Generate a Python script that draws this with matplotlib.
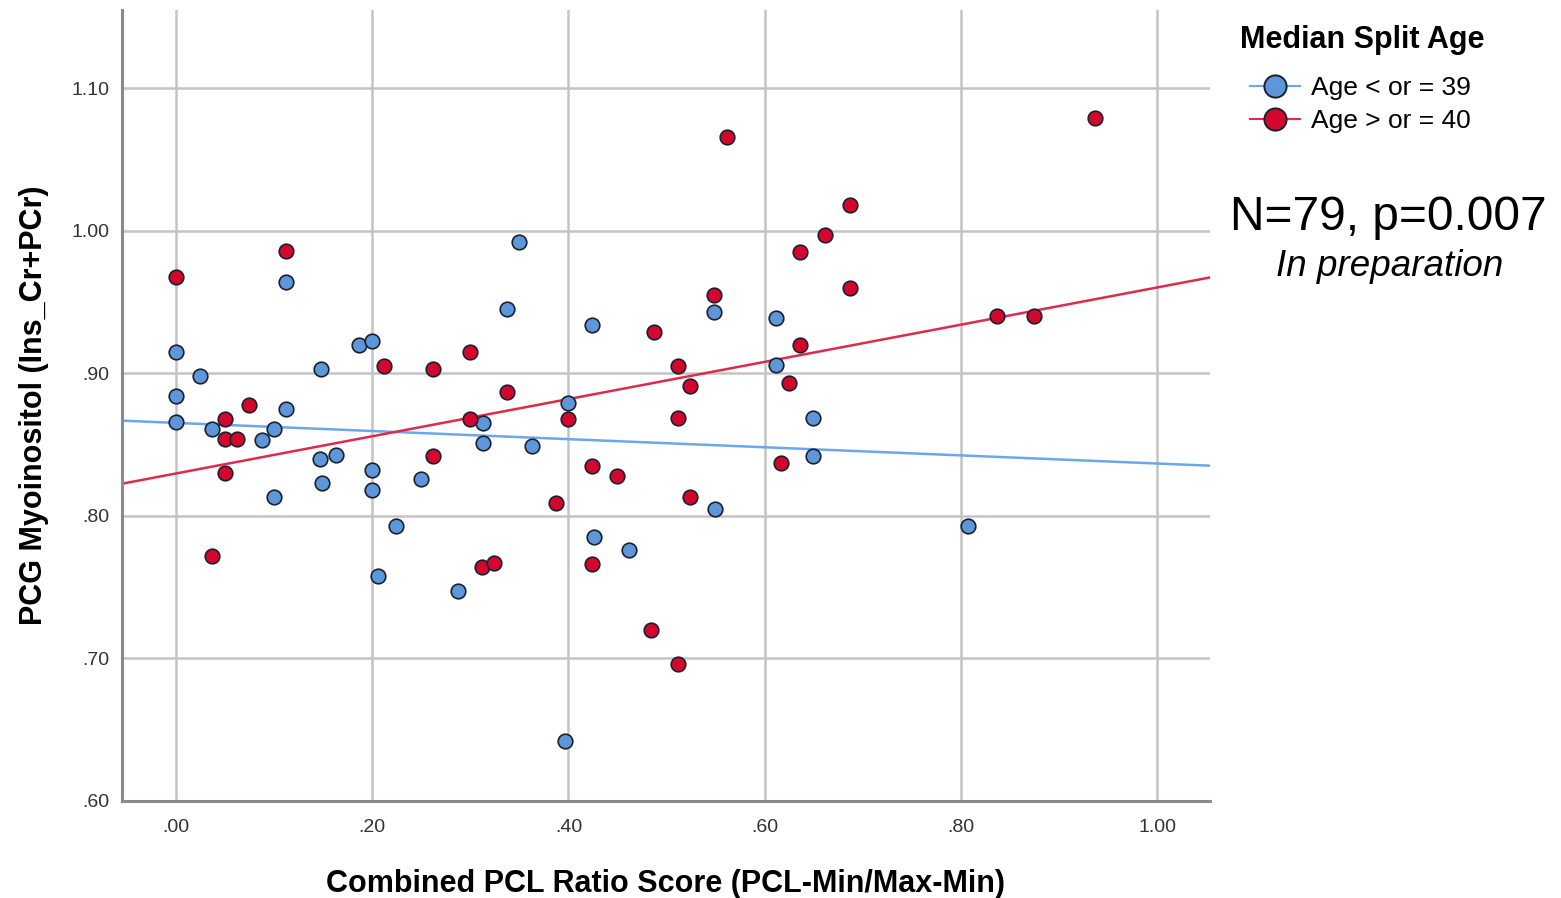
import numpy as np
import matplotlib
matplotlib.use('Agg')
import matplotlib.pyplot as plt
from matplotlib.lines import Line2D

plt.rcParams['font.family'] = ['Liberation Sans', 'DejaVu Sans']

# Age <= 39
young_x = [0.000, 0.000, 0.000, 0.024, 0.037, 0.088, 0.100, 0.100, 0.112, 0.112,
           0.148, 0.147, 0.149, 0.163, 0.187, 0.200, 0.200, 0.200, 0.206, 0.224,
           0.250, 0.287, 0.313, 0.313, 0.337, 0.350, 0.363, 0.400, 0.397, 0.424,
           0.426, 0.462, 0.548, 0.549, 0.612, 0.612, 0.649, 0.649, 0.807]
young_y = [0.915, 0.884, 0.866, 0.898, 0.861, 0.853, 0.861, 0.813, 0.964, 0.875,
           0.903, 0.840, 0.823, 0.843, 0.920, 0.923, 0.832, 0.818, 0.758, 0.793,
           0.826, 0.747, 0.865, 0.851, 0.945, 0.992, 0.849, 0.879, 0.642, 0.934,
           0.785, 0.776, 0.943, 0.805, 0.939, 0.906, 0.869, 0.842, 0.793]

# Age >= 40
old_x = [0.000, 0.037, 0.050, 0.050, 0.050, 0.062, 0.074, 0.112, 0.212, 0.262,
         0.262, 0.300, 0.300, 0.312, 0.324, 0.337, 0.387, 0.400, 0.424, 0.424,
         0.450, 0.484, 0.487, 0.512, 0.512, 0.512, 0.524, 0.524, 0.562, 0.548,
         0.617, 0.625, 0.636, 0.636, 0.662, 0.687, 0.687, 0.837, 0.875, 0.937]
old_y = [0.968, 0.772, 0.868, 0.854, 0.830, 0.854, 0.878, 0.986, 0.905, 0.903,
         0.842, 0.915, 0.868, 0.764, 0.767, 0.887, 0.809, 0.868, 0.835, 0.766,
         0.828, 0.720, 0.929, 0.905, 0.869, 0.696, 0.891, 0.813, 1.066, 0.955,
         0.837, 0.893, 0.920, 0.985, 0.997, 1.018, 0.960, 0.940, 0.940, 1.079]

# fit lines (intercept, slope)
young_fit = (0.8653, -0.0285)
old_fit = (0.8298, 0.1305)

xticks = [0.0, 0.2, 0.4, 0.6, 0.8, 1.0]
yticks = [0.6, 0.7, 0.8, 0.9, 1.0, 1.1]
group_labels = ['Age < or = 39', 'Age > or = 40']

blue_face, blue_line = '#5e97d9', '#6ba6ee'
red_face, red_line = '#d3072e', '#e02a4c'
edge = '#1c1f2e'


def fmt(t):
    s = '{:.2f}'.format(t)
    return s.lstrip('0') if t < 1 else s


fig = plt.figure(figsize=(15.61, 8.98), dpi=100)
ax = fig.add_axes([122 / 1561, 1 - 801 / 898, (1210 - 122) / 1561, (801 - 10) / 898])
ax.set_xlim(-0.055, 1.054)
ax.set_ylim(0.6, 1.155)

ax.set_xticks(xticks)
ax.set_yticks(yticks)
ax.set_xticklabels([fmt(t) for t in xticks])
ax.set_yticklabels([fmt(t) for t in yticks])
ax.tick_params(length=0, labelsize=14, labelcolor='#333333')
ax.tick_params(axis='x', pad=13)
ax.tick_params(axis='y', pad=9)
ax.grid(True, color='#c4c4c4', linewidth=1.8)
ax.set_axisbelow(True)
for s in ['top', 'right']:
    ax.spines[s].set_visible(False)
for s in ['left', 'bottom']:
    ax.spines[s].set_color('#8a8a8a')
    ax.spines[s].set_linewidth(2.2)

xs = np.array(ax.get_xlim())
ax.plot(xs, young_fit[0] + young_fit[1] * xs, color=blue_line, lw=1.8, zorder=2)
ax.plot(xs, old_fit[0] + old_fit[1] * xs, color=red_line, lw=1.8, zorder=2)

ax.scatter(young_x, young_y, s=110, c=blue_face, edgecolors=edge, linewidths=1.2, zorder=3)
ax.scatter(old_x, old_y, s=110, c=red_face, edgecolors=edge, linewidths=1.2, zorder=3)

ax.set_xlabel('Combined PCL Ratio Score (PCL-Min/Max-Min)', fontsize=22, fontweight='bold',
              labelpad=24)
ax.set_ylabel('PCG Myoinositol (Ins_Cr+PCr)', fontsize=22, fontweight='bold', labelpad=16)

handles = [Line2D([], [], color=blue_line, marker='o', markersize=16, markerfacecolor=blue_face,
                  markeredgecolor=edge, markeredgewidth=1.4, lw=1.5),
           Line2D([], [], color=red_line, marker='o', markersize=16, markerfacecolor=red_face,
                  markeredgecolor=edge, markeredgewidth=1.4, lw=1.5)]
fig.text(1240 / 1561, 1 - 40 / 898, 'Median Split Age', fontsize=22, fontweight='bold',
         ha='left', va='center')
fig.legend(handles, group_labels, loc='upper left', bbox_to_anchor=(1250 / 1561, 1 - 76 / 898),
           frameon=False, fontsize=19, handlelength=1.9, handletextpad=0.4,
           labelspacing=0.35, borderpad=0, borderaxespad=0)

fig.text(1388 / 1561, 1 - 217 / 898, 'N=79, p=0.007', fontsize=34.5, ha='center', va='center')
fig.text(1390 / 1561, 1 - 267 / 898, 'In preparation', fontsize=26.5, style='italic',
         ha='center', va='center')

fig.savefig('out.png', dpi=100)
